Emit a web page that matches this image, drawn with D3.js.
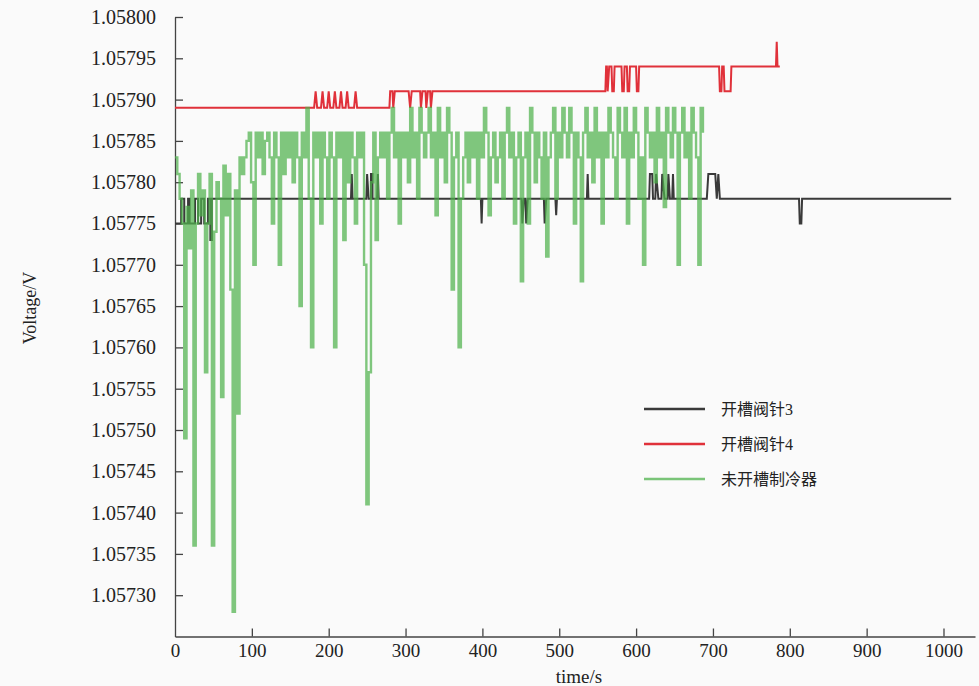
<html>
<head>
    <title>Voltage</title>
    <style>
        body { margin: 0; background: #fafafa; }
        #chart { width: 979px; height: 686px; }
        svg text { font-family: "Liberation Serif", "Times New Roman", "DejaVu Serif", "Noto Sans CJK SC", serif !important; fill: #222; }
    </style>
</head>
<body>
<div id="chart"></div>
</body>
<script src="https://d3js.org/d3.v7.min.js"></script>
<script>

  const width = 979;
  const height = 686;

  const seriesNames = ['开槽阀针3', '开槽阀针4', '未开槽制冷器'];
  const seriesColors = ['#3a3a3a', '#e0313a', '#4fb24c'];

  const yTicks = [1.05730, 1.05735, 1.05740, 1.05745, 1.05750, 1.05755, 1.05760, 1.05765,
    1.05770, 1.05775, 1.05780, 1.05785, 1.05790, 1.05795, 1.05800];
  const xTicks = [0, 100, 200, 300, 400, 500, 600, 700, 800, 900, 1000];

  // 开槽阀针3: [time, voltage] change points
  const needle3 = [
    [0, 1.05775], [8, 1.05775], [8, 1.05778], [12, 1.05778], [12, 1.05775], [17, 1.05775], [17, 1.05778],
    [19, 1.05778], [19, 1.05775], [26, 1.05775], [26, 1.05778], [30, 1.05778], [30, 1.05775],
    [34, 1.05775], [34, 1.05778], [38, 1.05778], [38, 1.05775], [43, 1.05775], [43, 1.05778],
    [46, 1.05778], [46, 1.05773], [48, 1.05773], [48, 1.05778],
    [229, 1.05778], [230, 1.05781], [231, 1.05778], [249, 1.05778], [250, 1.05781], [252, 1.05778],
    [255, 1.05778], [255, 1.05781], [257, 1.05781], [257, 1.05778], [263, 1.05778], [264, 1.05781], [265, 1.05778],
    [398, 1.05778], [399, 1.05775], [400, 1.05778], [451, 1.05778], [452, 1.05775], [454, 1.05778],
    [456, 1.05778], [457, 1.05775], [459, 1.05778], [480, 1.05778], [481, 1.05775], [483, 1.05778],
    [495, 1.05778], [496, 1.05776], [497, 1.05778], [536, 1.05778], [537, 1.05781], [538, 1.05778],
    [617, 1.05778], [618, 1.05781], [621, 1.05781], [622, 1.05778], [625, 1.05778], [626, 1.05781],
    [629, 1.05778], [633, 1.05778], [634, 1.05781], [637, 1.05778], [641, 1.05778], [642, 1.05781],
    [644, 1.05778], [647, 1.05778], [648, 1.05781], [649, 1.05778],
    [692, 1.05778], [694, 1.05781], [703, 1.05781], [705, 1.05778], [707, 1.05781], [709, 1.05778],
    [812, 1.05778], [813, 1.05775], [815, 1.05775], [816, 1.05778], [1010, 1.05778]
  ];

  // 开槽阀针4: [time, voltage] change points
  const needle4 = [
    [0, 1.05789], [181, 1.05789], [183, 1.05791], [185, 1.05789], [190, 1.05789], [192, 1.05791],
    [194, 1.05789], [198, 1.05789], [200, 1.05791], [202, 1.05789], [206, 1.05789], [208, 1.05791],
    [210, 1.05789], [214, 1.05789], [216, 1.05791], [218, 1.05789], [222, 1.05789], [224, 1.05791],
    [226, 1.05789], [233, 1.05789], [235, 1.05791], [237, 1.05789], [279, 1.05789], [280, 1.05791],
    [283, 1.05791], [284, 1.05789], [286, 1.05791], [304, 1.05791], [306, 1.05789], [308, 1.05791],
    [319, 1.05791], [320, 1.05789], [322, 1.05791], [326, 1.05791], [327, 1.05789], [329, 1.05791],
    [332, 1.05791], [333, 1.05789], [335, 1.05791],
    [560, 1.05791], [561, 1.05794], [562, 1.05794], [563, 1.05791], [565, 1.05794], [568, 1.05794],
    [569, 1.05791], [571, 1.05791], [572, 1.05794], [581, 1.05794], [582, 1.05791], [584, 1.05791],
    [585, 1.05794], [588, 1.05794], [589, 1.05791], [591, 1.05791], [592, 1.05794], [600, 1.05794],
    [601, 1.05791], [603, 1.05791], [604, 1.05794], [708, 1.05794], [709, 1.05791], [711, 1.05791],
    [712, 1.05794], [714, 1.05794], [715, 1.05791], [723, 1.05791], [724, 1.05794],
    [782, 1.05794], [783, 1.05797], [784, 1.05794], [787, 1.05794]
  ];

  // 未开槽制冷器: one reading every 3 s
  const coolerStep = 3;
  const cooler = [
    1.05783, 1.05781, 1.05778, 1.05775, 1.05749, 1.05777, 1.05772, 1.05779, 1.05736, 1.05775,
    1.05781, 1.05776, 1.05779, 1.05757, 1.05775, 1.05781, 1.05736, 1.05774, 1.05780, 1.05778,
    1.05754, 1.05782, 1.05776, 1.05781, 1.05767, 1.05728, 1.05779, 1.05752, 1.05783, 1.05781,
    1.05783, 1.05785, 1.05786, 1.05780, 1.05770, 1.05786, 1.05783, 1.05786, 1.05781, 1.05785,
    1.05786, 1.05783, 1.05775, 1.05786, 1.05783, 1.05770, 1.05786, 1.05781, 1.05786, 1.05783,
    1.05786, 1.05780, 1.05786, 1.05783, 1.05765, 1.05786, 1.05783, 1.05789, 1.05778, 1.05760,
    1.05786, 1.05783, 1.05786, 1.05775, 1.05786, 1.05783, 1.05778, 1.05786, 1.05783, 1.05760,
    1.05786, 1.05783, 1.05786, 1.05773, 1.05786, 1.05780, 1.05786, 1.05783, 1.05775, 1.05786,
    1.05783, 1.05786, 1.05770, 1.05741, 1.05757, 1.05780, 1.05786, 1.05773, 1.05783, 1.05786,
    1.05783, 1.05786, 1.05778, 1.05786, 1.05789, 1.05783, 1.05786, 1.05775, 1.05786, 1.05783,
    1.05786, 1.05780, 1.05789, 1.05783, 1.05786, 1.05778, 1.05789, 1.05786, 1.05783, 1.05786,
    1.05789, 1.05783, 1.05786, 1.05776, 1.05789, 1.05783, 1.05786, 1.05780, 1.05789, 1.05786,
    1.05767, 1.05783, 1.05786, 1.05760, 1.05778, 1.05783, 1.05786, 1.05780, 1.05786, 1.05783,
    1.05786, 1.05778, 1.05786, 1.05783, 1.05789, 1.05786, 1.05776, 1.05783, 1.05786, 1.05780,
    1.05783, 1.05786, 1.05778, 1.05786, 1.05789, 1.05783, 1.05786, 1.05775, 1.05783, 1.05786,
    1.05768, 1.05783, 1.05786, 1.05775, 1.05789, 1.05786, 1.05780, 1.05786, 1.05783, 1.05778,
    1.05786, 1.05771, 1.05783, 1.05786, 1.05789, 1.05778, 1.05786, 1.05783, 1.05789, 1.05786,
    1.05783, 1.05789, 1.05786, 1.05775, 1.05786, 1.05783, 1.05768, 1.05786, 1.05789, 1.05783,
    1.05786, 1.05780, 1.05789, 1.05783, 1.05786, 1.05775, 1.05786, 1.05783, 1.05789, 1.05786,
    1.05783, 1.05778, 1.05789, 1.05786, 1.05783, 1.05789, 1.05775, 1.05786, 1.05783, 1.05789,
    1.05786, 1.05778, 1.05783, 1.05770, 1.05789, 1.05786, 1.05783, 1.05786, 1.05780, 1.05789,
    1.05783, 1.05786, 1.05777, 1.05789, 1.05786, 1.05783, 1.05789, 1.05786, 1.05770, 1.05786,
    1.05789, 1.05783, 1.05786, 1.05778, 1.05789, 1.05786, 1.05783, 1.05770, 1.05789, 1.05786
  ];

  const svg = d3.select('#chart')
    .append('svg')
    .attr('width', width)
    .attr('height', height)

  svg.append('rect').attr('width', width).attr('height', height).attr('fill', '#fafafa')

  const xScale = d3.scaleLinear().domain([0, 1041]).range([175, 975])
  const yScale = d3.scaleLinear().domain([1.05725, 1.05800]).range([636.5, 17])

  // x axis, ticks pointing inward
  const xAxis = d3.axisBottom(xScale).tickValues(xTicks).tickSize(-8).tickSizeOuter(0).tickPadding(7)
    .tickFormat(d3.format('d'))
  const gx = svg.append('g').attr('transform', `translate(0, ${yScale(1.05725)})`).call(xAxis)
  gx.attr('font-family', null).attr('font-size', 19)
  gx.selectAll('.tick').filter(d => d === 0).select('line').remove()

  // y axis
  const yAxis = d3.axisLeft(yScale).tickValues(yTicks).tickSize(-8).tickSizeOuter(0).tickPadding(19)
    .tickFormat(d3.format('.5f'))
  const gy = svg.append('g').attr('transform', `translate(${xScale(0)}, 0)`).call(yAxis)
  gy.attr('font-family', null).attr('font-size', 20)

  svg.selectAll('.domain, .tick line').attr('stroke', '#444').attr('stroke-width', 1.3)

  // axis titles
  svg.append('text').attr('x', 579).attr('y', 683).attr('text-anchor', 'middle')
    .attr('font-size', 19).text('time/s')
  svg.append('text').attr('transform', 'translate(36, 308) rotate(-90)').attr('text-anchor', 'middle')
    .attr('font-size', 18).text('Voltage/V')

  const linear = d3.line().x(d => xScale(d[0])).y(d => yScale(d[1]))
  const stepped = d3.line().curve(d3.curveStepAfter).x(d => xScale(d[0])).y(d => yScale(d[1]))

  const coolerPoints = cooler.map((v, i) => [i * coolerStep, v])

  svg.append('path').datum(needle3).attr('d', linear)
    .attr('fill', 'none').attr('stroke', seriesColors[0]).attr('stroke-width', 2)
  svg.append('path').datum(needle4).attr('d', linear)
    .attr('fill', 'none').attr('stroke', seriesColors[1]).attr('stroke-width', 2)
  svg.append('path').datum(coolerPoints).attr('d', stepped)
    .attr('fill', 'none').attr('stroke', seriesColors[2]).attr('stroke-width', 2.4).attr('stroke-opacity', 0.72)

  // legend
  const legend = svg.append('g').attr('transform', 'translate(644, 409)')
  seriesNames.forEach((name, i) => {
    const g = legend.append('g').attr('transform', `translate(0, ${i * 35})`)
    g.append('line').attr('x1', 0).attr('x2', 61).attr('y1', 0).attr('y2', 0)
      .attr('stroke', seriesColors[i]).attr('stroke-width', 2.5).attr('stroke-opacity', i === 2 ? 0.75 : 1)
    g.append('text').attr('x', 77).attr('y', 0).attr('dy', '0.35em').attr('font-size', 16).text(name)
  })

</script>
</html>
